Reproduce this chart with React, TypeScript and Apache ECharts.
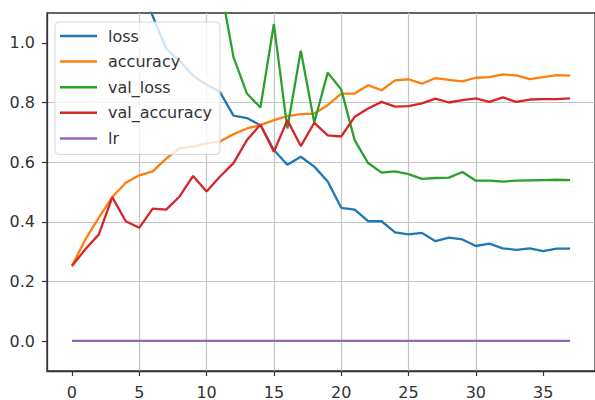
import React, { useEffect, useRef } from "react";
import * as echarts from "echarts";

const epochs = [0, 1, 2, 3, 4, 5, 6, 7, 8, 9, 10, 11, 12, 13, 14, 15, 16, 17, 18, 19, 20, 21, 22, 23, 24, 25, 26, 27, 28, 29, 30, 31, 32, 33, 34, 35, 36, 37];

const loss = [2.0, 1.7, 1.5, 1.4, 1.3, 1.2, 1.09, 0.98, 0.94, 0.89, 0.86, 0.835, 0.756, 0.748, 0.724, 0.641, 0.591, 0.618, 0.585, 0.535, 0.447, 0.441, 0.402, 0.402, 0.365, 0.358, 0.363, 0.335, 0.347, 0.341, 0.319, 0.327, 0.311, 0.306, 0.311, 0.302, 0.31, 0.31];
const accuracy = [0.252, 0.341, 0.414, 0.483, 0.531, 0.556, 0.569, 0.612, 0.647, 0.652, 0.663, 0.669, 0.694, 0.713, 0.724, 0.741, 0.754, 0.761, 0.763, 0.791, 0.83, 0.83, 0.858, 0.841, 0.874, 0.878, 0.863, 0.882, 0.876, 0.871, 0.883, 0.885, 0.894, 0.891, 0.878, 0.885, 0.892, 0.89];
const valLoss = [2.4, 2.0, 1.8, 1.7, 1.6, 1.55, 1.5, 1.45, 1.4, 1.35, 1.28, 1.2, 0.952, 0.83, 0.783, 1.063, 0.713, 0.974, 0.733, 0.9, 0.844, 0.674, 0.597, 0.565, 0.569, 0.56, 0.544, 0.547, 0.548, 0.567, 0.538, 0.538, 0.535, 0.538, 0.539, 0.54, 0.541, 0.54];
const valAccuracy = [0.252, 0.308, 0.358, 0.483, 0.402, 0.38, 0.444, 0.441, 0.485, 0.554, 0.502, 0.552, 0.597, 0.674, 0.726, 0.635, 0.741, 0.654, 0.732, 0.69, 0.686, 0.752, 0.78, 0.802, 0.786, 0.788, 0.797, 0.813, 0.8, 0.808, 0.814, 0.802, 0.817, 0.802, 0.81, 0.811, 0.811, 0.814];
const lr = [0.001, 0.001, 0.001, 0.001, 0.001, 0.001, 0.001, 0.001, 0.001, 0.001, 0.001, 0.001, 0.001, 0.001, 0.001, 0.001, 0.001, 0.001, 0.001, 0.001, 0.001, 0.001, 0.001, 0.001, 0.001, 0.001, 0.001, 0.001, 0.001, 0.001, 0.001, 0.001, 0.001, 0.001, 0.001, 0.001, 0.001, 0.001];

const seriesNames = ["loss", "accuracy", "val_loss", "val_accuracy", "lr"];
const seriesValues = [loss, accuracy, valLoss, valAccuracy, lr];
const seriesColors = ["#1f77b4", "#ff7f0e", "#2ca02c", "#d62728", "#9467bd"];

const xTickValues = [0, 5, 10, 15, 20, 25, 30, 35];
const yTickValues = [0, 0.2, 0.4, 0.6, 0.8, 1.0];

const FONT = "DejaVu Sans";
const TEXT = "#333";

export default function App() {
  const ref = useRef<HTMLDivElement>(null);
  useEffect(() => {
    if (!ref.current) return;
    const chart = echarts.init(ref.current, undefined, { renderer: "svg" });
    chart.setOption({
      animation: false,
      backgroundColor: "#ffffff",
      grid: {
        left: 47,
        top: 13,
        width: 549,
        height: 359,
        show: true,
        borderColor: "#333",
        borderWidth: 1.3,
        backgroundColor: "transparent",
      },
      legend: {
        orient: "vertical",
        left: 55,
        top: 22,
        icon: "rect",
        itemWidth: 37,
        itemHeight: 2.5,
        itemGap: 5.6,
        padding: [4, 8, 6, 5],
        backgroundColor: "rgba(255,255,255,0.8)",
        borderColor: "#d6d6d6",
        borderWidth: 1,
        borderRadius: 4,
        textStyle: {
          fontFamily: FONT,
          fontSize: 16,
          color: TEXT,
          lineHeight: 20,
          padding: [0, 0, 0, 6],
        },
        data: seriesNames,
      },
      xAxis: {
        type: "value",
        min: -1.85,
        max: 38.85,
        splitNumber: 8,
        axisLine: { show: true, onZero: false, lineStyle: { color: "#333", width: 1.3 } },
        axisTick: { show: true, length: 5, lineStyle: { color: "#333", width: 1.2 }, customValues: xTickValues },
        axisLabel: {
          customValues: xTickValues,
          margin: 13,
          fontFamily: FONT,
          fontSize: 16,
          color: TEXT,
        },
        splitLine: {
          show: true,
          showMinLine: false,
          showMaxLine: false,
          lineStyle: { color: "#c4c4c4", width: 1.2 },
        },
      },
      yAxis: {
        type: "value",
        min: -0.1,
        max: 1.1,
        splitNumber: 6,
        axisLine: { show: true, onZero: false, lineStyle: { color: "#333", width: 1.3 } },
        axisTick: { show: true, length: 5, lineStyle: { color: "#333", width: 1.2 }, customValues: yTickValues },
        axisLabel: {
          customValues: yTickValues,
          margin: 12,
          fontFamily: FONT,
          fontSize: 16,
          color: TEXT,
          formatter: (v: number) => v.toFixed(1),
        },
        splitLine: {
          show: true,
          showMinLine: false,
          showMaxLine: false,
          lineStyle: { color: "#c4c4c4", width: 1.2 },
        },
      },
      series: seriesNames.map((name, k) => ({
        name,
        type: "line",
        data: epochs.map((e, i) => [e, seriesValues[k][i]]),
        showSymbol: false,
        symbol: "none",
        clip: true,
        color: seriesColors[k],
        lineStyle: { color: seriesColors[k], width: 2.3 },
        emphasis: { disabled: true },
      })),
    });
    return () => chart.dispose();
  }, []);
  return (
    <div
      ref={ref}
      style={{ position: "absolute", left: 0, top: 0, width: 595, height: 400 }}
    />
  );
}
